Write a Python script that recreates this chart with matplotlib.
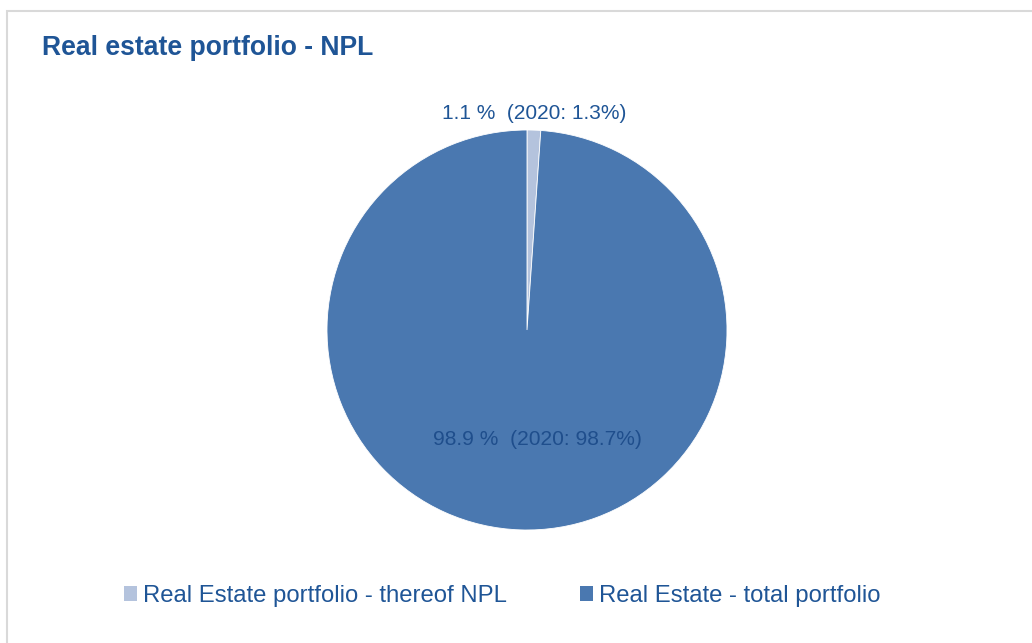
import matplotlib
matplotlib.use("Agg")
import matplotlib.pyplot as plt
from matplotlib.patches import Patch, Rectangle
import numpy as np

plt.rcParams['font.family'] = ['Liberation Sans', 'DejaVu Sans']

# Data
categories = ["Real Estate portfolio - thereof NPL", "Real Estate - total portfolio"]
shares_2021 = [1.1, 98.9]
shares_2020 = [1.3, 98.7]
colors = ["#B4C3DD", "#4A78B0"]
text_color = "#1F5596"

W, H = 1032, 643
fig = plt.figure(figsize=(W / 100, H / 100), dpi=100)
ax = fig.add_axes([0, 0, 1, 1])

cx, cy, r = 527, H - 330, 200
wedges, _ = ax.pie(shares_2021, colors=colors, startangle=90, counterclock=False,
                   center=(cx, cy), radius=r, frame=True,
                   wedgeprops=dict(edgecolor="white", linewidth=0.6))
ax.set_xlim(0, W)
ax.set_ylim(0, H)
ax.set_aspect("auto")
ax.axis("off")

# Chart area border
ax.add_patch(Rectangle((7, -20), W + 40, H - 11 + 20, fill=False,
                       edgecolor="#D9D9D9", linewidth=1.5))

fig.text(42 / W, 1 - 48 / H, "Real estate portfolio - NPL", fontsize=19.1,
         fontweight="bold", color=text_color, va="center", ha="left")

labels = [f"{a:.1f} %  (2020: {b:.1f}%)" for a, b in zip(shares_2021, shares_2020)]

# Outer label for the small slice
w0 = wedges[0]
mid0 = np.deg2rad((w0.theta1 + w0.theta2) / 2)
ax.text(cx + 1.085 * r * np.cos(mid0), cy + 1.085 * r * np.sin(mid0), labels[0],
        ha="center", va="center", fontsize=15, color=text_color)

# Inner label for the large slice
ang1 = np.deg2rad(-84.8)
ax.text(cx + 0.55 * r * np.cos(ang1), cy + 0.55 * r * np.sin(ang1), labels[1],
        ha="center", va="center", fontsize=15.1, color="#1F4E8C")

handles = [Patch(facecolor=c, edgecolor="none") for c in colors]
leg = fig.legend(handles, categories, loc="center", bbox_to_anchor=(502 / W, 1 - 596 / H),
                 ncol=2, frameon=False, fontsize=17.2, handlelength=0.55, handleheight=0.55,
                 handletextpad=0.25, columnspacing=3.05, labelcolor=text_color)

fig.savefig("out.png", dpi=100, facecolor="white")
